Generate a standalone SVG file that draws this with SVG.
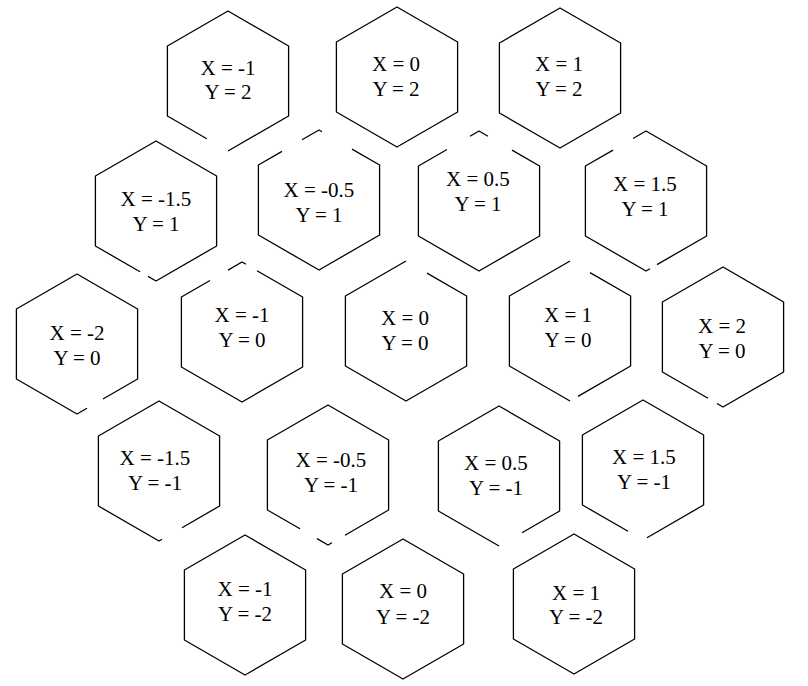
<svg xmlns="http://www.w3.org/2000/svg" width="808" height="686" viewBox="0 0 808 686">
<style>
.h{fill:none;stroke:#000;stroke-width:1.3;stroke-linejoin:round;stroke-linecap:butt}
.t{font-family:"Liberation Serif","Times New Roman",serif;font-size:21px;fill:#000;text-anchor:middle}
</style>
<defs>
<path id="hex" d="M0,-70 L60.6,-35 L60.6,35 L0,70 L-60.6,35 L-60.6,-35 Z"/>
</defs>
<rect width="808" height="686" fill="#fff"/>
<g id="connectors"></g>
<g id="n_m1_2"><path class="h" transform="translate(228,81)" d="M0,70 L60.6,35 L60.6,-35 L0,-70 L-60.6,-35 L-60.6,35 L-21.2,57.8"/>
<text class="t" x="228" y="75">X = -1</text><text class="t" x="228" y="99">Y = 2</text></g>
<g id="n_0_2"><use href="#hex" class="h" transform="translate(397,77)"/>
<text class="t" x="396" y="71">X = 0</text><text class="t" x="396" y="96">Y = 2</text></g>
<g id="n_1_2"><use href="#hex" class="h" transform="translate(560,78)"/>
<text class="t" x="559" y="71">X = 1</text><text class="t" x="559" y="96">Y = 2</text></g>
<g id="n_m15_1"><path class="h" transform="translate(156,211)" d="M-8,65.4 L0,70 L60.6,35 L60.6,-35 L0,-70 L-60.6,-35 L-60.6,35 L-16,60.8"/>
<text class="t" x="156" y="206">X = -1.5</text><text class="t" x="156" y="231">Y = 1</text></g>
<g id="n_m05_1"><path class="h" transform="translate(319,200)" d="M33,-50.9 L60.6,-35 L60.6,35 L0,70 L-60.6,35 L-60.6,-35 L-37,-48.6 M-17,-60.2 L0,-70 L3,-68.3"/>
<text class="t" x="319" y="197">X = -0.5</text><text class="t" x="319" y="222">Y = 1</text></g>
<g id="n_05_1"><path class="h" transform="translate(479,201)" d="M33,-50.9 L60.6,-35 L60.6,35 L0,70 L-60.6,35 L-60.6,-35 L-32,-51.5 M-9,-64.8 L0,-70 L9,-64.8"/>
<text class="t" x="478" y="186">X = 0.5</text><text class="t" x="478" y="211">Y = 1</text></g>
<g id="n_15_1"><path class="h" transform="translate(646,201)" d="M-13,-62.5 L0,-70 L60.6,-35 L60.6,35 L11,63.6 M4,67.7 L0,70 L-60.6,35 L-60.6,-35 L-33,-50.9"/>
<text class="t" x="645" y="191">X = 1.5</text><text class="t" x="645" y="216">Y = 1</text></g>
<g id="n_m2_0"><path class="h" transform="translate(77,344)" d="M26,55 L60.6,35 L60.6,-35 L0,-70 L-60.6,-35 L-60.6,35 L0,70 L10,64.2"/>
<text class="t" x="77" y="340">X = -2</text><text class="t" x="77" y="365">Y = 0</text></g>
<g id="n_m1_0"><path class="h" transform="translate(242,332)" d="M15,-61.3 L60.6,-35 L60.6,35 L0,70 L-60.6,35 L-60.6,-35 L-32,-51.5 M-14,-61.9 L0,-70 L4,-67.7"/>
<text class="t" x="242" y="322">X = -1</text><text class="t" x="242" y="347">Y = 0</text></g>
<g id="n_0_0"><path class="h" transform="translate(406,331)" d="M21,-57.9 L60.6,-35 L60.6,35 L0,70 L-60.6,35 L-60.6,-35 L0,-70"/>
<text class="t" x="405" y="325">X = 0</text><text class="t" x="405" y="350">Y = 0</text></g>
<g id="n_1_0"><path class="h" transform="translate(570,331)" d="M20,-58.4 L60.6,-35 L60.6,35 L8,65.4 M0,70 L-60.6,35 L-60.6,-35 L0,-70"/>
<text class="t" x="568" y="322">X = 1</text><text class="t" x="568" y="347">Y = 0</text></g>
<g id="n_2_0"><path class="h" transform="translate(723,337)" d="M-6,66.5 L0,70 L60.6,35 L60.6,-35 L0,-70 L-60.6,-35 L-60.6,35 L-15,61.3"/>
<text class="t" x="722" y="333">X = 2</text><text class="t" x="722" y="358">Y = 0</text></g>
<g id="n_m15_m1"><path class="h" transform="translate(159,471)" d="M3,68.3 L0,70 L-60.6,35 L-60.6,-35 L0,-70 L60.6,-35 L60.6,35 L23,56.7"/>
<text class="t" x="155" y="465">X = -1.5</text><text class="t" x="155" y="490">Y = -1</text></g>
<g id="n_m05_m1"><path class="h" transform="translate(328,475)" d="M17,60.2 L60.6,35 L60.6,-35 L0,-70 L-60.6,-35 L-60.6,35 L-28,53.8 M-11,63.6 L0,70 L4,67.7"/>
<text class="t" x="331" y="467">X = -0.5</text><text class="t" x="331" y="492">Y = -1</text></g>
<g id="n_05_m1"><path class="h" transform="translate(499,476)" d="M23,56.7 L60.6,35 L60.6,-35 L0,-70 L-60.6,-35 L-60.6,35 L0,70"/>
<text class="t" x="496" y="470">X = 0.5</text><text class="t" x="496" y="495">Y = -1</text></g>
<g id="n_15_m1"><path class="h" transform="translate(643,470)" d="M4,67.7 L60.6,35 L60.6,-35 L0,-70 L-60.6,-35 L-60.6,35 L-15,61.3"/>
<text class="t" x="644" y="464">X = 1.5</text><text class="t" x="644" y="489">Y = -1</text></g>
<g id="n_m1_m2"><use href="#hex" class="h" transform="translate(245,605)"/>
<text class="t" x="245" y="596">X = -1</text><text class="t" x="245" y="621">Y = -2</text></g>
<g id="n_0_m2"><use href="#hex" class="h" transform="translate(403,609)"/>
<text class="t" x="403" y="598">X = 0</text><text class="t" x="403" y="624">Y = -2</text></g>
<g id="n_1_m2"><use href="#hex" class="h" transform="translate(574,604)"/>
<text class="t" x="576" y="600">X = 1</text><text class="t" x="576" y="624">Y = -2</text></g>
</svg>
